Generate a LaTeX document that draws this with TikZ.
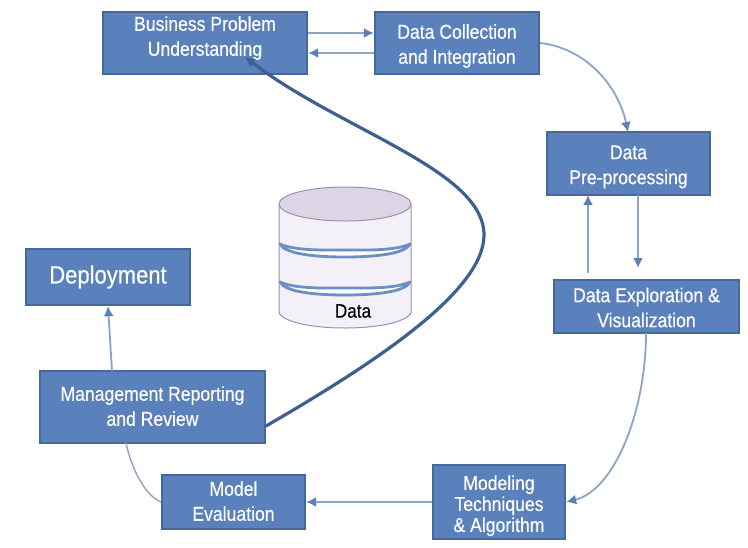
\documentclass[tikz,border=0pt]{standalone}
\usepackage{fontspec}
\setmainfont[FakeStretch=0.88,FakeBold=0.3]{Liberation Sans}
\usetikzlibrary{
    arrows.meta
}
\definecolor{boxfill}{HTML}{5A81BB}
\definecolor{boxline}{HTML}{45699C}
\definecolor{flowline}{HTML}{8DA3C8}
\definecolor{flowtip}{HTML}{5B7FB6}
\definecolor{loopline}{HTML}{3F5F91}
\definecolor{bandline}{HTML}{6A90C6}
\definecolor{drumside}{HTML}{F4F0F7}
\definecolor{drumtop}{HTML}{DDD5E6}
\definecolor{drumline}{HTML}{9A92AC}
\tikzset{
    stagebox/.style={
        draw=boxline, line width=2.4pt, fill=boxfill, text=white, align=center,
        inner sep=0pt, font=\fontsize{20}{25}\selectfont
    },
    flow/.style={
        draw=flowline, line width=1.8pt,
        -{Latex[length=10pt,width=10pt,color=flowtip]}
    },
    plainflow/.style={draw=flowline, line width=1.4pt},
    backloop/.style={
        draw=loopline, line width=3.2pt, line cap=round,
        -{Latex[length=10pt,width=10pt]}
    }
}
\begin{document}
\begin{tikzpicture}[x=1pt,y=-1pt]
    \useasboundingbox (0,0) rectangle (748,547);
    \fill[white] (0,0) rectangle (748,547);

    % stages
    \node[stagebox, minimum width=204pt, minimum height=62pt] (problem) at (205,43)
        {Business Problem\\Understanding\\[-11pt]\mbox{}};
    \node[stagebox, minimum width=164pt, minimum height=62pt] (collect) at (457,43)
        {\mbox{}\\[-4.5pt]Data Collection\\and Integration};
    \node[stagebox, minimum width=163pt, minimum height=63pt] (prep) at (628.5,163.5)
        {\mbox{}\\[-4.5pt]Data\\Pre-processing};
    \node[stagebox, minimum width=185pt, minimum height=53pt] (explore) at (646.5,306.5)
        {\mbox{}\\[-8.5pt]Data Exploration \&\\Visualization};
    \node[stagebox, minimum width=132pt, minimum height=74pt,
        font=\fontsize{20}{21}\selectfont] (modeling) at (499,502)
        {\mbox{}\\[1pt]Modeling\\Techniques\\\& Algorithm};
    \node[stagebox, minimum width=143pt, minimum height=54pt] (evaluate) at (233.5,502)
        {Model\\Evaluation\\[-23pt]\mbox{}};
    \node[stagebox, minimum width=225pt, minimum height=72pt] (report) at (152.5,407)
        {Management Reporting\\and Review\\[-23pt]\mbox{}};
    \node[stagebox, minimum width=164pt, minimum height=56pt,
        font=\fontsize{25}{28}\selectfont] (deploy) at (108,277)
        {Deployment};

    % data drum
    \draw[drumline, fill=drumside, line width=1pt]
        (279,204) -- (279,313) .. controls (285,323) and (315,328) .. (345,328)
        .. controls (375,328) and (405,323) .. (411,313) -- (411,204);
    \draw[drumline, fill=drumtop, line width=1pt] (345,204) ellipse [x radius=66, y radius=17];
    \foreach \y in {244,282}
        \draw[bandline, line width=2.8pt, fill=white, line join=round]
            (280,\y) .. controls (295,\y+7) and (325,\y+6) .. (345,\y+6)
            .. controls (365,\y+6) and (395,\y+7) .. (410,\y)
            .. controls (405,\y+10) and (375,\y+13) .. (345,\y+13)
            .. controls (315,\y+13) and (285,\y+10) .. (280,\y) -- cycle;
    \node[font=\fontsize{19.5}{22}\selectfont, text=black, inner sep=0pt] (drumname) at (353,311) {Data};

    % free ends beside the stages
    \coordinate (problemout) at (problem.east |- 0,33);
    \coordinate (collectin) at (collect.west |- 0,33);
    \coordinate (collectout) at (collect.west |- 0,53);
    \coordinate (problemin) at (problem.east |- 0,53);
    \coordinate (prepout) at (638,195);
    \coordinate (prepgap) at (638,268);
    \coordinate (exploregap) at (588,273);
    \coordinate (prepin) at (588,195);
    \coordinate (loopstart) at (266,426);
    \coordinate (looptip) at (245,57);

    \draw[flow] (problemout) -- (collectin);
    \draw[flow] (collectout) -- (problemin);
    \draw[flow] (collect.east) .. controls (585,48) and (618,85) .. (628,132);
    \draw[flow] (prepout) -- (prepgap);
    \draw[flow] (exploregap) -- (prepin);
    \draw[flow] (646,333) .. controls (646,410) and (615,490) .. (modeling.east);
    \draw[flow] (modeling.west) -- (evaluate.east);
    \draw[plainflow] (evaluate.west) .. controls (145,495) and (132,470) .. (126,443);
    \draw[flow] (112,371) -- (deploy.south);
    \draw[backloop] (loopstart) .. controls (380,360) and (484,290) .. (484,235)
        .. controls (484,170) and (340,130) .. (looptip);
\end{tikzpicture}
\end{document}
